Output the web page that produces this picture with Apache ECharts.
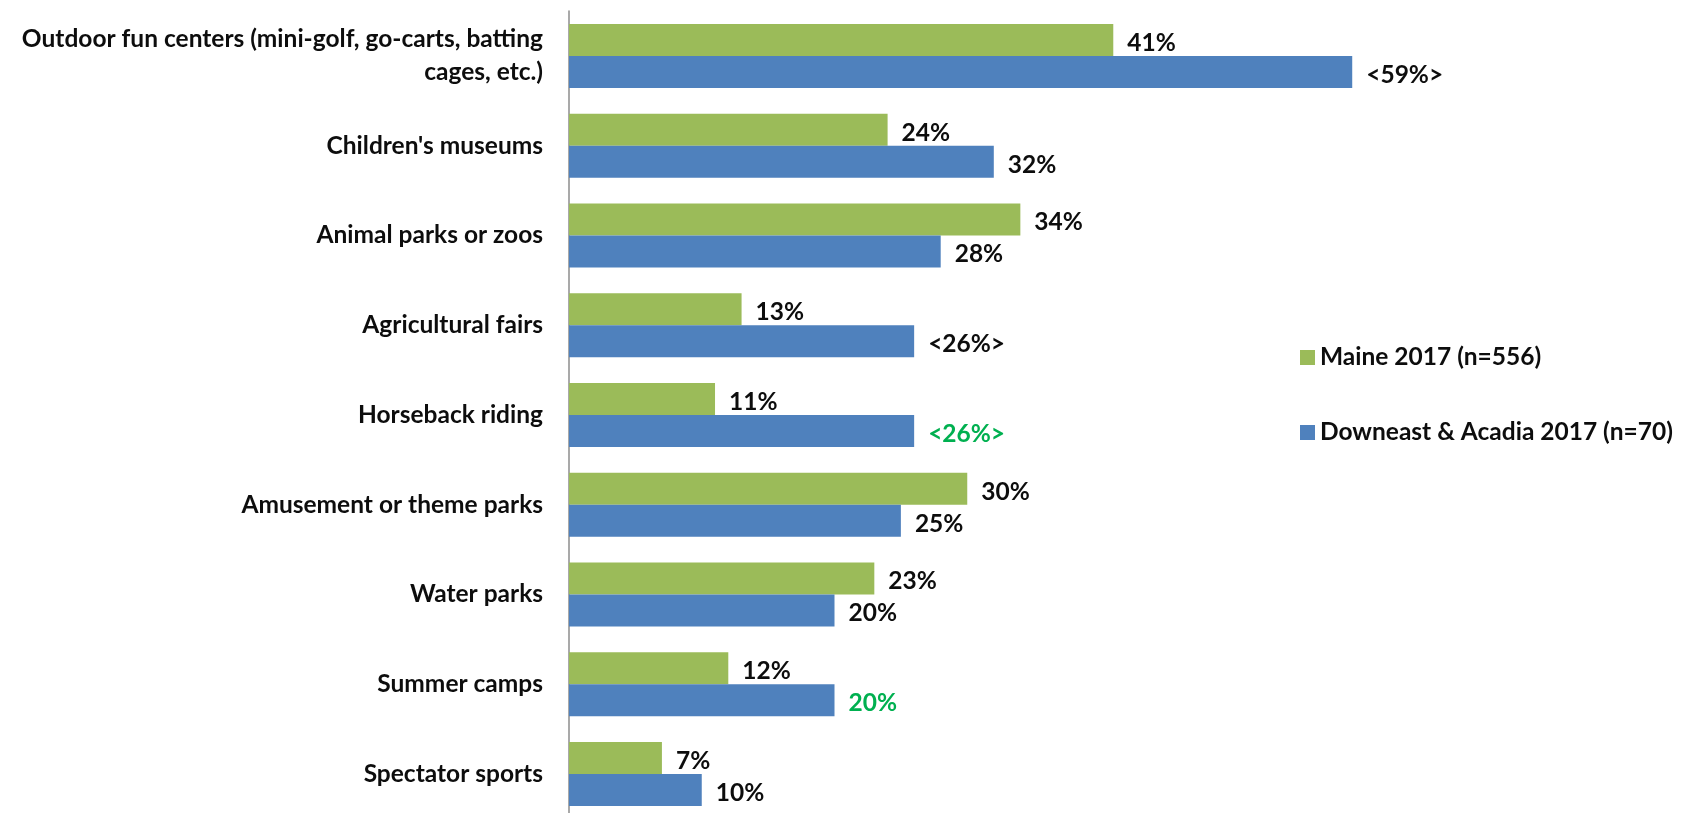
<!DOCTYPE html>
<html>
<head>
<meta charset="utf-8">
<title>Family activities participation</title>
<script src="https://cdn.jsdelivr.net/npm/echarts@6/dist/echarts.min.js"></script>
<style>
  html, body { margin: 0; padding: 0; background: #ffffff; }
  #chart { width: 1685px; height: 813px; }
</style>
</head>
<body>
<div id="chart"></div>
<script>
// Activity categories, top to bottom
const categories = [
  'Outdoor fun centers (mini-golf, go-carts, batting\ncages, etc.)',
  "Children's museums",
  'Animal parks or zoos',
  'Agricultural fairs',
  'Horseback riding',
  'Amusement or theme parks',
  'Water parks',
  'Summer camps',
  'Spectator sports'
];

// Percent of respondents
const maineValues    = [41, 24, 34, 13, 11, 30, 23, 12, 7];
const downeastValues = [59, 32, 28, 26, 26, 25, 20, 20, 10];

// Significance markers on the Downeast labels (wrapped in < >) and highlighted labels
const downeastBracketed = [true, false, false, true, true, false, false, false, false];
const downeastHighlight = [false, false, false, false, true, false, false, true, false];

const seriesNames = ['Maine 2017 (n=556)', 'Downeast & Acadia 2017 (n=70)'];

const FONT = 'Lato, "Open Sans", sans-serif';
const FONT_SIZE = 24.5;
const TEXT = '#0d0d0d';

const chart = echarts.init(document.getElementById('chart'), null, { renderer: 'canvas' });

const labelBase = {
  show: true,
  position: 'right',
  distance: 14,
  offset: [0, 3],
  fontFamily: FONT,
  fontWeight: 'bold',
  fontSize: FONT_SIZE,
  color: TEXT
};

chart.setOption({
  animation: false,
  backgroundColor: '#ffffff',
  textStyle: { fontFamily: FONT },
  grid: {
    left: 569,
    top: 11,
    width: 1062,
    height: 808,
    containLabel: false,
    outerBoundsMode: 'none'
  },
  legend: {
    orient: 'vertical',
    left: 1295,
    top: 340,
    itemWidth: 15,
    itemHeight: 15,
    itemGap: 50,
    icon: 'rect',
    textStyle: { fontFamily: FONT, fontWeight: 'bold', fontSize: FONT_SIZE, color: TEXT },
    data: seriesNames
  },
  xAxis: {
    type: 'value',
    min: 0,
    max: 80,
    show: false
  },
  yAxis: {
    type: 'category',
    inverse: true,
    data: categories,
    axisLine: { show: true, lineStyle: { color: '#8c8c8c', width: 1.5 } },
    axisTick: { show: false },
    axisLabel: {
      margin: 26,
      align: 'right',
      fontFamily: FONT,
      fontWeight: 'bold',
      fontSize: FONT_SIZE,
      lineHeight: 33,
      color: TEXT
    }
  },
  series: [
    {
      name: seriesNames[0],
      type: 'bar',
      barWidth: 32,
      barGap: '0%',
      itemStyle: { color: '#9bbb59' },
      label: Object.assign({}, labelBase, { formatter: p => p.value + '%' }),
      data: maineValues
    },
    {
      name: seriesNames[1],
      type: 'bar',
      barWidth: 32,
      barGap: '0%',
      itemStyle: { color: '#4f81bd' },
      label: Object.assign({}, labelBase, {
        formatter: p => downeastBracketed[p.dataIndex] ? '<' + p.value + '%>' : p.value + '%'
      }),
      data: downeastValues.map((v, i) => downeastHighlight[i]
        ? { value: v, label: { color: '#00b050' } }
        : v)
    }
  ]
});
</script>
</body>
</html>
